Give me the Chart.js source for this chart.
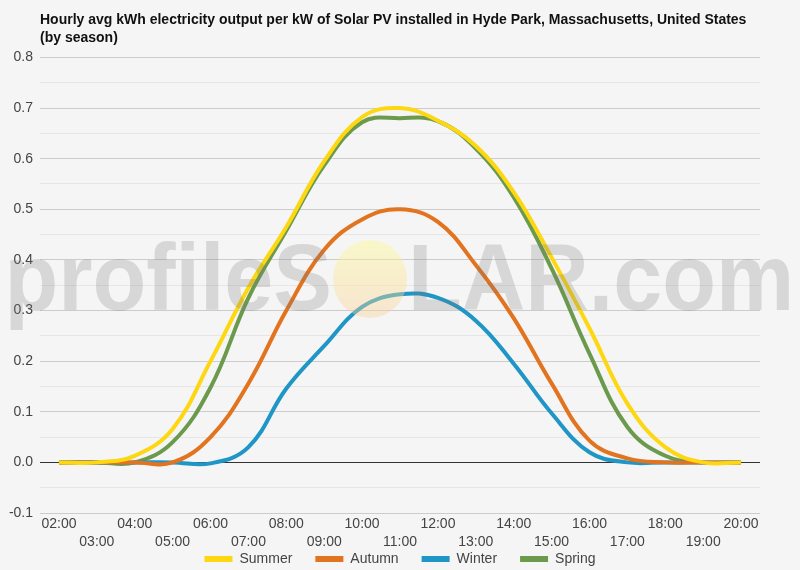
<!DOCTYPE html>
<html>
<head>
<meta charset="utf-8">
<script src="https://cdn.jsdelivr.net/npm/chart.js@4"></script>
<style>
  html, body { margin: 0; padding: 0; background: #f5f5f5; }
  #wrap { width: 800px; height: 570px; position: relative; }
</style>
</head>
<body>
<div id="wrap"><canvas id="myChart"></canvas></div>
<script>
const hours = ['02:00','03:00','04:00','05:00','06:00','07:00','08:00','09:00','10:00','11:00',
               '12:00','13:00','14:00','15:00','16:00','17:00','18:00','19:00','20:00']

const summer = [0, 0, 0.013, 0.066, 0.2, 0.345, 0.465, 0.595, 0.682, 0.70, 0.675, 0.625, 0.534, 0.405, 0.265, 0.116, 0.03, 0, 0]
const autumn = [0, 0, 0, 0, 0.05, 0.156, 0.30, 0.42, 0.48, 0.50, 0.475, 0.39, 0.285, 0.156, 0.043, 0.008, 0, 0, 0]
const winter = [0, 0, 0, 0, -0.002, 0.03, 0.146, 0.23, 0.307, 0.332, 0.325, 0.28, 0.195, 0.097, 0.02, 0, 0, 0, 0]
const spring = [0, 0, 0, 0.04, 0.148, 0.325, 0.458, 0.587, 0.672, 0.68, 0.674, 0.62, 0.524, 0.383, 0.215, 0.07, 0.013, 0, 0]

const seriesNames = ['Summer', 'Autumn', 'Winter', 'Spring']
const seriesColors = ['#fcd712', '#e2731f', '#1f96c6', '#6b9a4d']

const titleLines = [
    'Hourly avg kWh electricity output per kW of Solar PV installed in Hyde Park, Massachusetts, United States',
    '(by season)'
]

const FONT = "'Liberation Sans', Arial, sans-serif"

// watermark drawn over the plot, semi transparent
const watermark = {
    id: 'watermark',
    afterDraw(chart) {
        const ctx = chart.ctx
        ctx.save()
        ctx.font = `bold 88px ${FONT}`
        ctx.textBaseline = 'alphabetic'
        ctx.fillStyle = 'rgba(120,120,120,0.24)'
        ctx.translate(0, 310)
        ctx.scale(1, 1.08)
        ctx.textAlign = 'right'
        ctx.fillText('profileS', 332, 0)
        ctx.textAlign = 'left'
        ctx.fillText('LAR.com', 408, 0)
        ctx.restore()
        // the sun in place of the O
        ctx.save()
        const g = ctx.createLinearGradient(0, 240, 0, 318)
        g.addColorStop(0, 'rgba(255,252,150,0.45)')
        g.addColorStop(1, 'rgba(250,205,150,0.40)')
        ctx.fillStyle = g
        ctx.beginPath()
        ctx.ellipse(370, 279, 37, 39, 0, 0, Math.PI * 2)
        ctx.fill()
        ctx.restore()
    }
}

const isMajor = v => Math.abs(Math.round(v * 10) - v * 10) < 1e-6

const datasets = [summer, autumn, winter, spring].map((data, i) => ({
    label: seriesNames[i],
    data: data,
    borderColor: seriesColors[i],
    backgroundColor: seriesColors[i],
    borderWidth: 4,
    tension: 0.4,
    pointRadius: 0,
    fill: false
}))

Chart.defaults.font.family = FONT

new Chart(document.getElementById('myChart').getContext('2d'), {
    type: 'line',
    data: { labels: hours, datasets: datasets },
    options: {
        responsive: true,
        maintainAspectRatio: false,
        devicePixelRatio: 1,
        animation: false,
        layout: { padding: { left: 0, right: 40, top: 0, bottom: -6 } },
        plugins: {
            title: {
                display: true,
                text: titleLines,
                align: 'start',
                fullSize: false,
                color: '#111',
                font: { size: 14, weight: 'bold', lineHeight: 1.3 },
                padding: { top: 11, bottom: 10 }
            },
            legend: {
                position: 'bottom',
                fullSize: false,
                labels: {
                    boxWidth: 28,
                    boxHeight: 6,
                    padding: 2,
                    color: '#444',
                    font: { size: 14 },
                    generateLabels(chart) {
                        const items = Chart.defaults.plugins.legend.labels.generateLabels(chart)
                        items.forEach((it, i) => {
                            if (i < items.length - 1) it.text = it.text + '\u2003\u2002'
                            it.lineWidth = 0
                        })
                        return items
                    }
                }
            },
            tooltip: { enabled: false }
        },
        scales: {
            x: {
                offset: true,
                grid: { display: false, drawTicks: false },
                border: { display: false },
                afterFit(scale) { scale.height = 37 },
                ticks: {
                    autoSkip: false,
                    maxRotation: 0,
                    padding: 2,
                    color: '#444',
                    font: { size: 14, lineHeight: 1.3 },
                    callback(value, index) {
                        const lab = hours[index]
                        return index % 2 ? ['', lab] : lab
                    }
                }
            },
            y: {
                min: -0.1,
                max: 0.8,
                border: { display: false },
                afterFit(scale) { scale.width = 40 },
                grid: {
                    drawTicks: false,
                    lineWidth: 1,
                    color(ctx) {
                        const v = ctx.tick.value
                        if (Math.abs(v) < 1e-9) return '#333'
                        return isMajor(v) ? '#cccccc' : '#e6e6e6'
                    }
                },
                ticks: {
                    stepSize: 0.05,
                    padding: 7,
                    color: '#444',
                    font: { size: 14 },
                    callback(value) {
                        return isMajor(value) ? value.toFixed(1) : ''
                    }
                }
            }
        }
    },
    plugins: [watermark]
})
</script>
</body>
</html>
